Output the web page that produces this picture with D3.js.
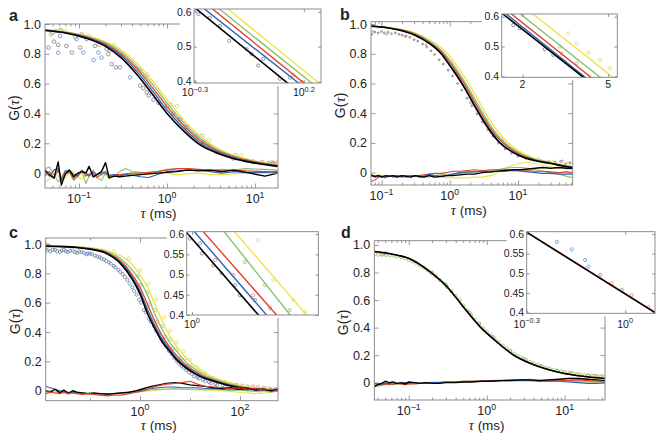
<!DOCTYPE html>
<html>
<head>
<meta charset="utf-8">
<script src="https://cdn.jsdelivr.net/npm/d3@7"></script>
<style>
body { margin: 0; background: #fff; }
text { font-family: "Liberation Sans", Arial, sans-serif; fill: #222; }
</style>
</head>
<body>
<div id="fig"></div>
<script>
// ---- tick values / labels ----
const mainYTicks = [0, 0.2, 0.4, 0.6, 0.8, 1.0];
const aXTicks = [0.1, 1, 10], aXExp = ["\u22121", "0", "1"];
const bXTicks = [0.1, 1, 10], bXExp = ["\u22121", "0", "1"];
const cXTicks = [1, 100], cXExp = ["0", "2"];
const dXTicks = [0.1, 1, 10], dXExp = ["\u22121", "0", "1"];
const aInXTicks = [0.501, 1.585], aInXExp = ["\u22120.3", "0.2"];
const bInXTicks = [2, 5], bInXLab = ["2", "5"];
const cInXTicks = [1], cInXExp = ["0"];
const dInXTicks = [0.501, 1], dInXExp = ["\u22120.3", "0"];
const abInYTicks = [0.4, 0.5, 0.6];
const cdInYTicks = [0.4, 0.45, 0.5, 0.55, 0.6];

// ---- panel a ----
const aFitTau = [0.04, 0.07, 0.12, 0.2, 0.3, 0.45, 0.7, 1, 1.5, 2.3, 3.5, 5.5, 9, 18];
const aFitK = [0.957, 0.94, 0.905, 0.85, 0.775, 0.665, 0.52, 0.40, 0.29, 0.195, 0.14, 0.10, 0.072, 0.045];
const aFitB = [0.958, 0.942, 0.910, 0.858, 0.788, 0.684, 0.543, 0.423, 0.309, 0.210, 0.149, 0.106, 0.076, 0.048];
const aFitR = [0.960, 0.944, 0.914, 0.865, 0.801, 0.703, 0.565, 0.446, 0.328, 0.226, 0.158, 0.112, 0.080, 0.050];
const aFitG = [0.961, 0.946, 0.919, 0.873, 0.814, 0.721, 0.588, 0.470, 0.346, 0.241, 0.167, 0.118, 0.084, 0.053];
const aFitY = [0.963, 0.948, 0.923, 0.880, 0.827, 0.740, 0.611, 0.493, 0.365, 0.256, 0.176, 0.124, 0.088, 0.056];
const aResTau = [0.041, 0.046, 0.052, 0.058, 0.063, 0.07, 0.078, 0.087, 0.097, 0.108, 0.12, 0.13, 0.145, 0.16, 0.18, 0.2, 0.22, 0.25, 0.29, 0.34, 0.4, 0.5, 0.62, 0.78, 1, 1.3, 1.7, 2.3, 3.1, 4.2, 5.7, 7.8, 13, 18];
const aResK = [0.02, -0.01, -0.035, 0.075, -0.08, -0.005, 0.02, -0.025, 0, 0.01, 0, 0.045, -0.025, -0.01, 0.01, 0.07, -0.03, -0.02, -0.025, -0.02, -0.015, -0.01, -0.005, 0, 0.005, 0.01, 0.02, 0.015, 0.02, 0.01, 0.02, 0.005, -0.02, 0];
const aResB = [0.01, -0.02, 0.02, 0.03, -0.04, 0.01, 0.02, -0.01, -0.02, 0.015, 0, -0.02, 0.01, -0.01, 0, 0.01, -0.015, -0.01, -0.02, -0.01, -0.015, -0.025, -0.03, -0.01, 0.01, 0.015, 0.02, 0.02, 0.01, 0, 0.01, 0.005, 0.005, 0.01];
const aResR = [-0.02, 0.01, -0.03, 0.02, -0.05, -0.01, 0.01, -0.04, -0.01, 0.02, -0.02, -0.01, 0, -0.03, -0.01, 0, -0.02, -0.01, -0.01, -0.005, 0, 0, 0.005, 0.01, 0.02, 0.03, 0.03, 0.025, 0.02, 0.015, 0.02, 0.015, 0.01, 0.005];
const aResG = [0.03, 0.04, -0.01, -0.06, -0.03, 0.02, 0, -0.05, -0.02, 0.01, -0.07, -0.02, 0.02, -0.03, -0.05, 0, -0.04, -0.02, 0.01, 0.03, 0.01, 0.005, 0, 0.01, 0.025, 0.03, 0.03, 0.02, 0.02, 0.025, 0.02, 0.03, 0.025, 0.02];
const aResY = [-0.06, -0.04, 0, -0.02, -0.05, -0.03, 0, 0.01, -0.03, -0.04, -0.01, 0, -0.03, -0.02, 0, -0.01, -0.03, -0.02, -0.015, -0.01, -0.01, -0.01, -0.005, 0, 0, -0.01, -0.005, 0, -0.01, -0.01, -0.005, 0, 0, 0];
const aMarkK = [[0.045, 0.842], [0.052, 0.882], [0.058, 0.86], [0.062, 0.958], [0.072, 0.853], [0.083, 0.809], [0.103, 0.842], [0.152, 0.853], [0.206, 0.831], [0.215, 0.798], [0.235, 0.731], [0.263, 0.709], [0.54, 0.57], [0.588, 0.542], [0.62, 0.52], [0.7, 0.493], [1.18, 0.398], [1.67, 0.309], [2.58, 0.209], [3.67, 0.142], [5.66, 0.098], [9.55, 0.076], [16, 0.064]];
const aMarkB = [[0.061, 0.92], [0.058, 0.807], [0.094, 0.898], [0.122, 0.898], [0.112, 0.809], [0.146, 0.758], [0.166, 0.809], [0.18, 0.775], [0.292, 0.709], [0.379, 0.642], [0.494, 0.587], [0.8, 0.47], [1.4, 0.36], [2.2, 0.25], [4, 0.14], [8, 0.085], [14, 0.065]];
const aMarkR = [[0.055, 0.953], [0.05, 0.94], [0.107, 0.931], [0.17, 0.86], [0.225, 0.825], [0.3, 0.79], [0.45, 0.7], [1, 0.45], [3, 0.19], [12, 0.075], [16, 0.07], [18, 0.07]];
const aMarkG = [[0.048, 0.93], [0.09, 0.91], [0.2, 0.86], [0.5, 0.69], [1.1, 0.46], [2.5, 0.25], [6, 0.12], [15, 0.07]];
const aMarkY = [[0.07, 0.95], [0.13, 0.92], [0.25, 0.86], [0.6, 0.66], [1.3, 0.45], [3, 0.22], [7, 0.12], [17, 0.065]];
const aInK = [[0.504, 0.61], [1.37, 0.39]];
const aInB = [[0.549, 0.61], [1.54, 0.39]];
const aInR = [[0.598, 0.61], [1.63, 0.39]];
const aInG = [[0.643, 0.61], [1.77, 0.39]];
const aInY = [[0.705, 0.61], [1.91, 0.39]];
const aInMarkK = [[0.587, 0.583], [0.653, 0.56], [0.72, 0.517], [0.912, 0.479], [0.978, 0.446], [1.23, 0.408]];
const aInMarkB = [[0.519, 0.593], [0.865, 0.493], [1.031, 0.465], [1.37, 0.411]];
const aInMarkR = [[1.42, 0.418], [1.55, 0.399]];

// ---- panel b ----
const bFitTau = [0.07, 0.12, 0.2, 0.31, 0.5, 0.75, 1, 1.3, 1.66, 2.34, 3.27, 5.2, 10, 18, 29, 45, 68];
const bFitK = [0.985, 0.975, 0.955, 0.925, 0.87, 0.80, 0.72, 0.645, 0.567, 0.444, 0.332, 0.208, 0.119, 0.08, 0.063, 0.045, 0.03];
const bFitB = [0.985, 0.975, 0.956, 0.927, 0.873, 0.804, 0.726, 0.652, 0.574, 0.452, 0.340, 0.214, 0.122, 0.082, 0.064, 0.046, 0.031];
const bFitR = [0.986, 0.976, 0.958, 0.931, 0.879, 0.814, 0.742, 0.668, 0.593, 0.473, 0.359, 0.230, 0.130, 0.085, 0.066, 0.048, 0.033];
const bFitG = [0.987, 0.977, 0.960, 0.935, 0.886, 0.824, 0.758, 0.685, 0.611, 0.494, 0.378, 0.245, 0.138, 0.089, 0.068, 0.050, 0.035];
const bFitY = [0.988, 0.979, 0.964, 0.941, 0.896, 0.840, 0.784, 0.711, 0.641, 0.527, 0.409, 0.270, 0.150, 0.095, 0.071, 0.054, 0.038];
const bResTau = [0.07, 0.08, 0.09, 0.1, 0.115, 0.13, 0.15, 0.17, 0.2, 0.23, 0.27, 0.31, 0.36, 0.42, 0.5, 0.6, 0.75, 0.9, 1.1, 1.4, 1.8, 2.3, 3, 4, 5, 6.5, 8.5, 11, 14, 18, 23, 30, 40, 52, 64];
const bResK = [-0.015, -0.025, -0.02, -0.03, -0.02, -0.025, -0.02, -0.03, -0.02, -0.025, -0.03, -0.02, -0.025, -0.03, -0.02, -0.03, -0.025, -0.02, -0.02, -0.015, -0.01, -0.01, 0, 0.005, 0.01, 0.015, 0.02, 0.02, 0.025, 0.03, 0.035, 0.03, 0.035, 0.03, 0.03];
const bResB = [-0.02, -0.03, -0.02, -0.025, -0.03, -0.02, -0.025, -0.02, -0.03, -0.02, -0.025, -0.02, -0.03, -0.025, -0.01, -0.02, -0.025, -0.02, -0.01, 0, 0.005, 0.005, 0.01, 0.005, 0.01, 0.01, 0.015, 0.01, 0.005, 0, -0.005, -0.005, -0.01, -0.01, -0.01];
const bResR = [-0.06, -0.05, -0.03, -0.025, -0.035, -0.02, -0.03, -0.025, -0.02, -0.03, -0.02, -0.025, -0.02, -0.015, -0.01, -0.005, -0.005, 0, 0.01, 0.01, 0.015, 0.02, 0.015, 0.02, 0.02, 0.02, 0.015, 0.02, 0.015, 0.01, 0.01, 0.005, 0, 0.005, 0];
const bResG = [-0.025, -0.02, -0.03, -0.02, -0.025, -0.02, -0.025, -0.02, -0.025, -0.02, -0.025, -0.02, -0.02, -0.025, -0.02, -0.02, -0.015, -0.015, -0.01, -0.005, 0, 0.005, 0.01, 0.015, 0.02, 0.03, 0.035, 0.035, 0.03, 0.02, 0.01, 0, -0.01, -0.025, -0.035];
const bResY = [-0.02, -0.02, -0.015, -0.02, -0.025, -0.02, -0.025, -0.02, -0.025, -0.02, -0.025, -0.02, -0.025, -0.03, -0.03, -0.03, -0.03, -0.035, -0.035, -0.035, -0.035, -0.03, -0.03, -0.02, 0, 0.03, 0.05, 0.065, 0.07, 0.06, 0.05, 0.04, 0.03, 0.025, 0.02];
const bMarkK = [[0.072, 0.93], [0.08, 0.945], [0.09, 0.94], [0.1, 0.95], [0.11, 0.94], [0.125, 0.945], [0.14, 0.935], [0.16, 0.94], [0.18, 0.93], [0.2, 0.925], [0.23, 0.92], [0.26, 0.91], [0.3, 0.895], [0.34, 0.885], [0.4, 0.865], [0.46, 0.845], [0.53, 0.82], [0.6, 0.795], [0.7, 0.76], [0.8, 0.73], [0.95, 0.69], [1.1, 0.65], [1.3, 0.6], [1.5, 0.555], [1.8, 0.5], [2.1, 0.45], [2.5, 0.395], [3, 0.34], [3.6, 0.29], [4.3, 0.245], [5.2, 0.2], [6.5, 0.16], [8, 0.13], [10, 0.11], [13, 0.095], [17, 0.085], [22, 0.08], [28, 0.075], [35, 0.07], [42, 0.075], [50, 0.06], [58, 0.065]];
const bMarkR = [[0.075, 0.95], [0.12, 0.93], [0.22, 0.915], [0.45, 0.86], [2, 0.47], [4, 0.27], [15, 0.09], [30, 0.07], [45, 0.08]];
const bMarkY = [[3.5, 0.36], [6, 0.22], [12, 0.12], [20, 0.095], [33, 0.08], [55, 0.07]];
const bInK = [[1.55, 0.62], [3.95, 0.39]];
const bInB = [[1.61, 0.62], [4.02, 0.39]];
const bInR = [[1.70, 0.62], [4.28, 0.39]];
const bInG = [[1.87, 0.62], [4.72, 0.39]];
const bInY = [[2.14, 0.62], [5.42, 0.39]];
const bInMarkK = [[1.81, 0.572], [1.94, 0.561], [2.54, 0.491], [2.78, 0.472]];
const bInMarkR = [[3.04, 0.477], [3.57, 0.444]];
const bInMarkG = [[2.99, 0.5]];
const bInMarkY = [[3.27, 0.544], [3.57, 0.511], [4.05, 0.479], [4.59, 0.455], [5.11, 0.427]];

// ---- panel c ----
const cFitTau = [0.013, 0.03, 0.06, 0.1, 0.2, 0.4, 0.7, 1, 1.4, 2, 2.8, 4, 5.6, 8, 12, 18, 30, 60, 120, 250, 575];
const cFitK = [0.985, 0.982, 0.975, 0.965, 0.94, 0.87, 0.76, 0.66, 0.53, 0.42, 0.33, 0.265, 0.205, 0.16, 0.12, 0.09, 0.065, 0.035, 0.017, 0.008, 0.004];
const cFitB = [0.985, 0.982, 0.975, 0.966, 0.942, 0.877, 0.774, 0.679, 0.557, 0.441, 0.348, 0.278, 0.217, 0.169, 0.127, 0.095, 0.069, 0.038, 0.019, 0.009, 0.004];
const cFitR = [0.985, 0.982, 0.976, 0.968, 0.946, 0.887, 0.792, 0.705, 0.592, 0.47, 0.373, 0.294, 0.234, 0.18, 0.136, 0.102, 0.073, 0.042, 0.021, 0.01, 0.005];
const cFitG = [0.985, 0.983, 0.978, 0.971, 0.952, 0.903, 0.823, 0.75, 0.655, 0.519, 0.416, 0.324, 0.263, 0.20, 0.152, 0.114, 0.081, 0.049, 0.025, 0.012, 0.005];
const cFitY = [0.986, 0.984, 0.98, 0.975, 0.958, 0.922, 0.86, 0.79, 0.708, 0.589, 0.473, 0.37, 0.296, 0.232, 0.173, 0.13, 0.09, 0.057, 0.03, 0.014, 0.006];
const cResTau = [0.013, 0.016, 0.02, 0.025, 0.03, 0.037, 0.045, 0.055, 0.07, 0.09, 0.12, 0.16, 0.22, 0.3, 0.42, 0.6, 0.85, 1.2, 1.7, 2.4, 3.4, 5, 7, 10, 14, 20, 30, 45, 65, 95, 140, 200, 300, 420, 575];
const cResK = [0, -0.01, 0.01, -0.015, 0.005, -0.02, 0, -0.01, -0.015, -0.02, -0.015, -0.02, -0.025, -0.02, -0.015, -0.01, 0, 0.015, 0.03, 0.04, 0.05, 0.055, 0.05, 0.04, 0.035, 0.03, 0.02, 0.015, 0.02, 0.01, 0.015, 0.005, 0.01, 0, 0.005];
const cResB = [0.03, 0.02, 0.01, 0, -0.005, -0.01, -0.01, -0.015, -0.015, -0.02, -0.02, -0.02, -0.02, -0.02, -0.015, -0.01, -0.005, 0.005, 0.015, 0.02, 0.025, 0.025, 0.02, 0.02, 0.02, 0.015, 0.015, 0.01, 0.01, 0.01, 0.005, 0.01, 0.005, 0, 0.005];
const cResR = [-0.02, -0.01, -0.015, -0.02, -0.01, -0.02, -0.015, -0.02, -0.025, -0.02, -0.025, -0.03, -0.035, -0.03, -0.03, -0.02, -0.01, 0, 0.02, 0.035, 0.045, 0.05, 0.055, 0.065, 0.045, 0.03, 0.025, 0.02, 0.015, 0.02, 0.01, 0.015, 0.005, 0.01, 0];
const cResG = [-0.01, 0, -0.01, -0.005, -0.01, -0.015, -0.01, -0.015, -0.02, -0.015, -0.02, -0.02, -0.02, -0.02, -0.015, -0.015, -0.01, 0, 0.005, 0.01, 0.01, 0.015, 0.01, 0.01, 0.01, 0.005, 0.01, 0.005, 0, 0.005, 0, -0.005, 0, -0.01, 0];
const cResY = [-0.01, -0.015, -0.01, -0.015, -0.02, -0.01, -0.015, -0.02, -0.015, -0.02, -0.02, -0.025, -0.02, -0.02, -0.02, -0.015, -0.01, -0.005, 0, 0.005, 0.01, 0.01, 0.01, 0.01, 0.005, 0.005, 0, 0, -0.005, -0.01, -0.015, -0.02, -0.015, -0.01, 0];
const cMarkB = [[0.014, 0.955], [0.018, 0.96], [0.022, 0.95], [0.027, 0.955], [0.033, 0.95], [0.04, 0.955], [0.05, 0.945], [0.06, 0.95], [0.075, 0.94], [0.09, 0.935], [0.11, 0.93], [0.14, 0.915], [0.17, 0.9], [0.21, 0.885], [0.26, 0.865], [0.32, 0.84], [0.4, 0.81], [0.5, 0.775], [0.62, 0.73], [0.76, 0.68], [0.95, 0.62], [1.2, 0.55], [1.5, 0.49], [1.9, 0.44], [2.4, 0.39], [3, 0.33], [3.8, 0.27], [4.8, 0.225], [6, 0.185], [7.5, 0.155], [9.5, 0.125], [12, 0.1], [15, 0.085], [20, 0.065], [26, 0.05], [35, 0.04], [50, 0.03], [70, 0.025], [100, 0.02], [150, 0.015], [220, 0.01], [330, 0.01], [480, 0.005]];
const cMarkK = [[0.013, 0.965], [0.016, 0.95], [0.02, 0.96], [0.025, 0.945], [0.03, 0.96], [0.036, 0.945], [0.045, 0.955], [0.055, 0.94], [0.068, 0.945], [0.085, 0.93], [0.1, 0.935], [0.125, 0.92], [0.155, 0.91], [0.19, 0.895], [0.24, 0.875], [0.3, 0.85], [0.37, 0.825], [0.45, 0.795], [0.56, 0.755], [0.7, 0.705], [0.85, 0.655], [1.05, 0.6], [1.3, 0.535], [1.65, 0.47], [2.1, 0.41], [2.7, 0.35], [3.4, 0.3], [4.3, 0.25], [5.4, 0.205], [6.8, 0.17], [8.5, 0.14], [11, 0.115], [14, 0.09], [18, 0.075], [24, 0.06], [32, 0.045], [45, 0.035], [62, 0.03], [90, 0.02], [130, 0.015], [190, 0.015], [280, 0.01], [400, 0.005], [550, 0.01]];
const cMarkR = [[0.013, 1.0], [0.015, 0.99], [0.6, 0.81], [1, 0.72], [1.5, 0.59], [2.2, 0.47], [3.2, 0.37], [4.5, 0.29], [6.5, 0.22], [9, 0.17], [13, 0.13], [20, 0.09], [28, 0.07], [38, 0.06], [50, 0.05], [65, 0.045], [85, 0.04], [110, 0.035], [140, 0.03], [180, 0.03], [230, 0.025], [300, 0.02], [400, 0.015], [520, 0.01]];
const cMarkG = [[0.5, 0.86], [0.9, 0.78], [1.4, 0.67], [2, 0.55], [2.8, 0.44], [4, 0.35], [5.6, 0.28], [8, 0.22], [11, 0.17], [16, 0.13], [25, 0.09], [40, 0.06]];
const cMarkY = [[0.3, 0.95], [0.6, 0.9], [1, 0.82], [1.5, 0.73], [2.1, 0.62], [3, 0.5], [4, 0.41], [5.5, 0.33], [7.5, 0.27], [10, 0.21], [14, 0.16], [20, 0.12], [30, 0.085], [50, 0.06], [80, 0.04], [150, 0.0], [250, -0.01], [400, 0.0]];
const cInK = [[0.93, 0.61], [1.97, 0.39]];
const cInB = [[1.01, 0.61], [2.13, 0.39]];
const cInR = [[1.10, 0.61], [2.35, 0.39]];
const cInG = [[1.35, 0.61], [2.67, 0.39]];
const cInY = [[1.49, 0.61], [3.14, 0.39]];
const cInMarkK = [[0.98, 0.589], [1.1, 0.552], [1.23, 0.523], [1.59, 0.449]];
const cInMarkB = [[1.08, 0.577], [1.33, 0.503], [1.52, 0.474], [1.84, 0.437]];
const cInMarkR = [[1.25, 0.536], [1.49, 0.499], [1.81, 0.449], [2.13, 0.417]];
const cInMarkG = [[1.67, 0.531], [2.03, 0.474], [2.58, 0.412]];
const cInMarkY = [[1.9, 0.585], [2.2, 0.486], [2.67, 0.437], [2.99, 0.407]];

// ---- panel d ----
const dFitTau = [0.036, 0.06, 0.1, 0.187, 0.31, 0.5, 0.82, 1.34, 2.2, 3.6, 6, 9.6, 16, 33];
const dFitK = [0.952, 0.935, 0.903, 0.806, 0.697, 0.552, 0.407, 0.298, 0.201, 0.141, 0.097, 0.068, 0.048, 0.03];
const dFitR = [0.95, 0.933, 0.901, 0.804, 0.695, 0.55, 0.405, 0.296, 0.2, 0.14, 0.096, 0.067, 0.047, 0.029];
const dResTau = [0.036, 0.04, 0.045, 0.05, 0.056, 0.063, 0.07, 0.08, 0.09, 0.1, 0.12, 0.14, 0.17, 0.2, 0.25, 0.3, 0.4, 0.5, 0.65, 0.85, 1.1, 1.5, 2, 2.7, 3.5, 4.7, 6.3, 8.5, 11, 15, 20, 26, 33];
const dResK = [-0.03, -0.015, -0.005, 0.01, 0, 0.005, -0.005, 0, -0.01, 0.005, 0, -0.005, 0, -0.005, -0.005, 0, 0, 0.005, 0.005, 0.01, 0.01, 0.015, 0.015, 0.02, 0.02, 0.015, 0.02, 0.025, 0.03, 0.03, 0.025, 0.02, 0.015];
const dResB = [-0.01, -0.005, -0.01, -0.005, -0.005, -0.01, -0.005, -0.005, 0, -0.005, 0, -0.005, 0, 0, 0, 0.005, 0.005, 0.005, 0.01, 0.01, 0.01, 0.015, 0.015, 0.015, 0.015, 0.01, 0.01, 0.01, 0.005, 0, -0.005, -0.005, 0];
const dResR = [-0.005, -0.01, -0.015, -0.01, -0.015, -0.01, -0.005, -0.01, -0.015, -0.01, -0.01, -0.005, -0.005, 0, 0, 0.005, 0.005, 0.01, 0.01, 0.01, 0.015, 0.015, 0.02, 0.02, 0.02, 0.015, 0.015, 0.02, 0.015, 0.02, 0.015, 0.01, 0.015];
const dResG = [-0.02, -0.025, -0.02, -0.015, -0.01, -0.015, -0.01, -0.01, -0.005, -0.01, -0.005, -0.005, 0, 0, 0.005, 0.005, 0.005, 0.01, 0.01, 0.01, 0.015, 0.015, 0.02, 0.02, 0.025, 0.02, 0.02, 0.015, 0.015, 0.01, 0.01, 0.01, 0.01];
const dResY = [-0.015, -0.02, -0.015, -0.01, -0.015, -0.01, -0.005, -0.01, -0.005, -0.005, 0, -0.005, 0, 0.005, 0, 0.005, 0.01, 0.01, 0.01, 0.015, 0.015, 0.02, 0.02, 0.02, 0.02, 0.015, 0.015, 0.01, 0.01, 0.005, 0.005, 0, 0.005];
const dMarkG = [[0.037, 0.935], [0.041, 0.93], [0.046, 0.932], [0.051, 0.928], [0.057, 0.925], [0.064, 0.922], [0.071, 0.918], [0.08, 0.912], [0.09, 0.905], [0.1, 0.89], [0.112, 0.88], [0.125, 0.87], [0.14, 0.85], [0.157, 0.835], [0.176, 0.815], [0.197, 0.795], [0.22, 0.775], [0.25, 0.745], [0.28, 0.72], [0.31, 0.695], [0.35, 0.665], [0.4, 0.63], [0.45, 0.6], [0.5, 0.56], [0.56, 0.525], [0.63, 0.49], [0.7, 0.46], [0.8, 0.425], [0.9, 0.395], [1, 0.37], [1.12, 0.345], [1.26, 0.32], [1.42, 0.295], [1.6, 0.27], [1.8, 0.25], [2, 0.23], [2.25, 0.21], [2.5, 0.195], [2.8, 0.18], [3.2, 0.165], [3.6, 0.15], [4, 0.14], [4.5, 0.13], [5, 0.12], [5.7, 0.11], [6.4, 0.102], [7.2, 0.094], [8, 0.088], [9, 0.082], [10, 0.077], [11.5, 0.071], [13, 0.066], [14.5, 0.062], [16, 0.058], [18, 0.055], [20, 0.052], [23, 0.049], [26, 0.047], [29, 0.045], [32, 0.044]];
const dMarkB = [[0.05, 0.94], [0.3, 0.71], [0.6, 0.51], [1.2, 0.33], [3, 0.17], [8, 0.085], [20, 0.05]];
const dMarkR = [[0.045, 0.93], [0.2, 0.8], [0.8, 0.43], [2, 0.23], [5, 0.12], [12, 0.07], [25, 0.05]];
const dMarkY = [[6, 0.1], [10, 0.075], [15, 0.06], [22, 0.052], [30, 0.046]];
const dInK = [[0.48, 0.614], [1.29, 0.39]];
const dInR = [[0.485, 0.612], [1.30, 0.389]];
const dInMarkB = [[0.619, 0.58], [0.687, 0.561], [0.755, 0.534], [0.772, 0.517], [0.839, 0.496], [0.976, 0.458]];
const dInMarkR = [[0.91, 0.475], [1.047, 0.445], [1.178, 0.414]];

const lineCol = { K: "#000000", B: "#2b62b5", R: "#e4402a", G: "#86c46c", Y: "#efe24a" };
const markCol = { K: "#6b6b6b", B: "#4f7fc6", R: "#ea7a62", G: "#7fc064", Y: "#e2d250" };

function minorTicks(dom) {
    let out = [];
    for (let e = Math.floor(Math.log10(dom[0])); e <= Math.ceil(Math.log10(dom[1])); e++) {
        for (let m = 2; m <= 9; m++) {
            let v = m * Math.pow(10, e);
            if (v > dom[0] && v < dom[1]) out.push(v);
        }
    }
    return out;
}

function frame(g, x, y, box, o) {
    let [x0, y0, x1, y1] = box;
    g.append("rect")
        .attr("x", x0).attr("y", y0)
        .attr("width", x1 - x0).attr("height", y1 - y0)
        .attr("fill", "none").attr("stroke", "#808080").attr("stroke-width", 0.9);
    let tick = function (axis, tr, vals, len) {
        g.append("g").attr("transform", tr)
            .call(axis.tickValues(vals).tickSize(-len).tickFormat(""))
            .call(s => {
                s.select(".domain").remove();
                s.selectAll("line").attr("stroke", "#808080").attr("stroke-width", 0.8);
            });
    };
    tick(d3.axisBottom(x), "translate(0," + y1 + ")", o.xt, o.tl);
    tick(d3.axisTop(x), "translate(0," + y0 + ")", o.xt, o.tl);
    if (o.xm.length) {
        tick(d3.axisBottom(x), "translate(0," + y1 + ")", o.xm, o.tl * 0.55);
        tick(d3.axisTop(x), "translate(0," + y0 + ")", o.xm, o.tl * 0.55);
    }
    tick(d3.axisLeft(y), "translate(" + x0 + ",0)", o.yt, o.tl);
    tick(d3.axisRight(y), "translate(" + x1 + ",0)", o.yt, o.tl);

    g.selectAll(null).data(o.yt).join("text")
        .attr("x", x0 - o.ypad).attr("y", d => y(d)).attr("dy", "0.36em")
        .attr("text-anchor", "end").attr("font-size", o.fs)
        .text(o.yfmt);
    o.xt.forEach(function (v, i) {
        let t = g.append("text")
            .attr("x", x(v)).attr("y", y1 + o.xoff)
            .attr("text-anchor", "middle").attr("font-size", o.fs);
        if (o.base) {
            t.append("tspan").text("10");
            t.append("tspan").attr("dy", -o.fs * 0.42).attr("font-size", o.fs * 0.7).text(o.xl[i]);
        } else {
            t.text(o.xl[i]);
        }
    });
}

function drawMarks(g, x, y, sets, r, sw) {
    sets.forEach(function ([c, pts]) {
        g.selectAll(null).data(pts).join("circle")
            .attr("cx", d => x(d[0])).attr("cy", d => y(d[1])).attr("r", r)
            .attr("fill", "none").attr("stroke", markCol[c]).attr("stroke-width", sw);
    });
}

function drawPanel(svg, p) {
    let [x0, y0, x1, y1] = p.box;
    let x = d3.scaleLog().domain(p.xdom).range([x0, x1]);
    let y = d3.scaleLinear().domain(p.ydom).range([y1, y0]);
    svg.append("clipPath").attr("id", "clip" + p.id)
        .append("rect").attr("x", x0).attr("y", y0).attr("width", x1 - x0).attr("height", y1 - y0);
    let g = svg.append("g");
    let plot = g.append("g").attr("clip-path", "url(#clip" + p.id + ")");

    drawMarks(plot, x, y, p.marks, p.mr, p.msw);

    let smooth = d3.line().x(d => x(d[0])).y(d => y(d[1])).curve(d3.curveMonotoneX);
    p.fits.forEach(function ([c, vals]) {
        plot.append("path")
            .datum(p.fitTau.map((t, i) => [t, vals[i]]))
            .attr("fill", "none").attr("stroke", lineCol[c])
            .attr("stroke-width", c === "K" ? 1.6 : 1.3)
            .attr("d", smooth);
    });
    let rough = d3.line().x(d => x(d[0])).y(d => y(d[1]));
    p.res.forEach(function ([c, vals]) {
        plot.append("path")
            .datum(p.resTau.map((t, i) => [t, vals[i]]))
            .attr("fill", "none").attr("stroke", lineCol[c])
            .attr("stroke-width", c === "K" ? 1.4 : 1.1)
            .attr("stroke-linejoin", "round")
            .attr("d", rough);
    });

    frame(g, x, y, p.box, {
        xt: p.xt, xm: p.xm, xl: p.xl, base: true, yt: mainYTicks,
        yfmt: d => d === 0 ? "0" : d.toFixed(1),
        tl: 4.5, fs: 12.5, ypad: 4, xoff: 15
    });

    // axis titles
    let cx = (x0 + x1) / 2 - 3;
    let xt = g.append("text").attr("x", cx).attr("y", y1 + 29.5)
        .attr("text-anchor", "middle").attr("font-size", 13.5);
    xt.append("tspan").attr("font-family", "'Liberation Serif', serif").attr("font-style", "italic").attr("font-size", 14.5).text("\u03c4");
    xt.append("tspan").text(" (ms)");
    let yt = g.append("text")
        .attr("transform", "translate(" + (x0 - 26) + "," + ((y0 + y1) / 2 + 2) + ") rotate(-90)")
        .attr("text-anchor", "middle").attr("font-size", 14);
    yt.append("tspan").text("G(");
    yt.append("tspan").attr("font-family", "'Liberation Serif', serif").attr("font-style", "italic").attr("font-size", 15).text("\u03c4");
    yt.append("tspan").text(")");

    g.append("text").attr("x", p.letter[0]).attr("y", p.letter[1])
        .attr("font-size", 16).attr("font-weight", "bold").text(p.id);

    // inset
    let q = p.inset;
    let [i0, j0, i1, j1] = q.box;
    g.append("rect").attr("x", i0 - q.padL).attr("y", j0 - 3)
        .attr("width", i1 - i0 + q.padL + 3).attr("height", j1 - j0 + 6)
        .attr("fill", "#fff");
    let ix = d3.scaleLog().domain(q.xdom).range([i0, i1]);
    let iy = d3.scaleLinear().domain(q.ydom).range([j1, j0]);
    svg.append("clipPath").attr("id", "iclip" + p.id)
        .append("rect").attr("x", i0).attr("y", j0).attr("width", i1 - i0).attr("height", j1 - j0);
    let ig = g.append("g").attr("clip-path", "url(#iclip" + p.id + ")");
    drawMarks(ig, ix, iy, q.marks, 1.6, 0.7);
    let straight = d3.line().x(d => ix(d[0])).y(d => iy(d[1]));
    q.lines.forEach(function ([c, pts]) {
        ig.append("path").datum(pts)
            .attr("fill", "none").attr("stroke", lineCol[c])
            .attr("stroke-width", c === "K" ? 1.6 : 1.4)
            .attr("d", straight);
    });
    frame(g, ix, iy, q.box, {
        xt: q.xt, xm: [], xl: q.xl, base: q.base, yt: q.yt,
        yfmt: d => String(d),
        tl: 3, fs: 10.5, ypad: 2.5, xoff: q.xoff
    });
}

function init() {
    let svg = d3.select("#fig").append("svg").attr("width", 665).attr("height", 440);

    let panels = [
        {
            id: "a", box: [45, 24, 278, 188], xdom: [0.0411, 18.2], ydom: [-0.1, 1.0],
            xt: aXTicks, xl: aXExp, xm: minorTicks([0.0411, 18.2]), letter: [9, 21],
            fitTau: aFitTau, fits: [["Y", aFitY], ["G", aFitG], ["R", aFitR], ["B", aFitB], ["K", aFitK]],
            resTau: aResTau, res: [["Y", aResY], ["G", aResG], ["R", aResR], ["B", aResB], ["K", aResK]],
            marks: [["Y", aMarkY], ["G", aMarkG], ["R", aMarkR], ["B", aMarkB], ["K", aMarkK]], mr: 1.8, msw: 0.7,
            inset: {
                box: [194, 9, 321, 83], xdom: [0.496, 1.90], ydom: [0.396, 0.608], padL: 14,
                xt: aInXTicks, xl: aInXExp, base: true, yt: abInYTicks, xoff: 13,
                lines: [["Y", aInY], ["G", aInG], ["R", aInR], ["B", aInB], ["K", aInK]],
                marks: [["K", aInMarkK], ["B", aInMarkB], ["R", aInMarkR]]
            }
        },
        {
            id: "b", box: [371, 21.7, 572.7, 185], xdom: [0.0702, 63.3], ydom: [-0.083, 1.0155],
            xt: bXTicks, xl: bXExp, xm: minorTicks([0.0702, 63.3]), letter: [340, 20],
            fitTau: bFitTau, fits: [["Y", bFitY], ["G", bFitG], ["R", bFitR], ["B", bFitB], ["K", bFitK]],
            resTau: bResTau, res: [["Y", bResY], ["G", bResG], ["R", bResR], ["B", bResB], ["K", bResK]],
            marks: [["Y", bMarkY], ["R", bMarkR], ["K", bMarkK]], mr: 0.9, msw: 0.8,
            inset: {
                box: [501.7, 14, 617.3, 77.3], xdom: [1.6, 5.52], ydom: [0.397, 0.609], padL: 20,
                xt: bInXTicks, xl: bInXLab, base: false, yt: abInYTicks, xoff: 11,
                lines: [["Y", bInY], ["G", bInG], ["R", bInR], ["B", bInB], ["K", bInK]],
                marks: [["Y", bInMarkY], ["G", bInMarkG], ["R", bInMarkR], ["K", bInMarkK]]
            }
        },
        {
            id: "c", box: [45.7, 238, 278, 400.7], xdom: [0.013, 575], ydom: [-0.068, 1.041],
            xt: cXTicks, xl: cXExp, xm: [0.1, 10], letter: [9, 238],
            fitTau: cFitTau, fits: [["Y", cFitY], ["G", cFitG], ["R", cFitR], ["B", cFitB], ["K", cFitK]],
            resTau: cResTau, res: [["Y", cResY], ["G", cResG], ["B", cResB], ["K", cResK], ["R", cResR]],
            marks: [["Y", cMarkY], ["G", cMarkG], ["R", cMarkR], ["K", cMarkK], ["B", cMarkB]], mr: 1.6, msw: 0.7,
            inset: {
                box: [186.7, 231.7, 318.3, 315], xdom: [0.95, 3.4], ydom: [0.4, 0.606], padL: 20,
                xt: cInXTicks, xl: cInXExp, base: true, yt: cdInYTicks, xoff: 12.5,
                lines: [["Y", cInY], ["G", cInG], ["R", cInR], ["B", cInB], ["K", cInK]],
                marks: [["Y", cInMarkY], ["G", cInMarkG], ["R", cInMarkR], ["B", cInMarkB], ["K", cInMarkK]]
            }
        },
        {
            id: "d", box: [374.3, 240.7, 605, 400], xdom: [0.0362, 32.9], ydom: [-0.126, 1.031],
            xt: dXTicks, xl: dXExp, xm: minorTicks([0.0362, 32.9]), letter: [341, 238],
            fitTau: dFitTau, fits: [["R", dFitR], ["K", dFitK]],
            resTau: dResTau, res: [["Y", dResY], ["G", dResG], ["R", dResR], ["B", dResB], ["K", dResK]],
            marks: [["Y", dMarkY], ["R", dMarkR], ["B", dMarkB], ["G", dMarkG]], mr: 1.6, msw: 0.7,
            inset: {
                box: [526.7, 231.7, 655, 313.3], xdom: [0.501, 1.233], ydom: [0.3985, 0.6058], padL: 20,
                xt: dInXTicks, xl: dInXExp, base: true, yt: cdInYTicks, xoff: 14.5,
                lines: [["R", dInR], ["K", dInK]],
                marks: [["B", dInMarkB], ["R", dInMarkR]]
            }
        }
    ];

    panels.forEach(p => drawPanel(svg, p));
}

window.addEventListener('load', init);
</script>
</body>
</html>
